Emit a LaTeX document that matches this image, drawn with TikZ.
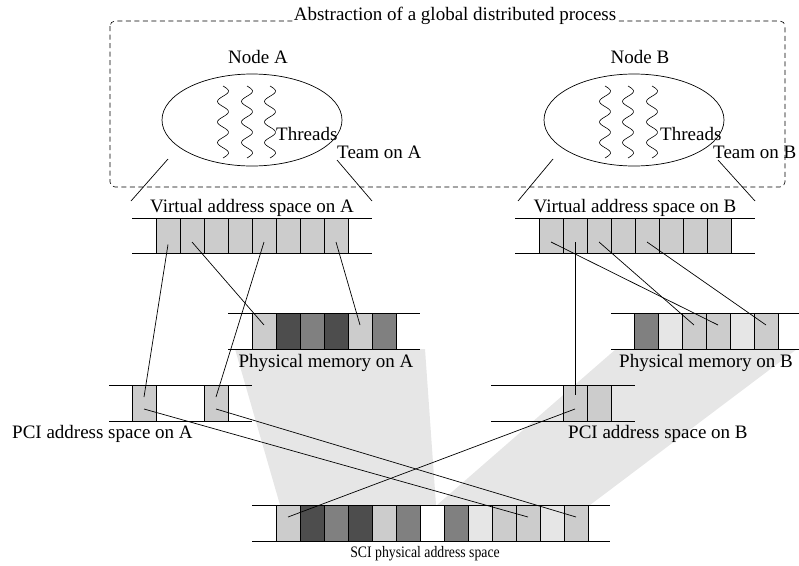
\documentclass[tikz,border=0pt]{standalone}
\usepackage{fontspec}
\setmainfont{Liberation Serif}
\usetikzlibrary{shapes.geometric}
\definecolor{lg}{HTML}{CCCCCC}
\definecolor{dg}{HTML}{4D4D4D}
\definecolor{mg}{HTML}{808080}
\definecolor{vlg}{HTML}{E6E6E6}
\definecolor{sh}{HTML}{E6E6E6}
\begin{document}
\begin{tikzpicture}[x=1pt,y=-1pt,
  font=\fontsize{19}{22}\selectfont,
  cell/.style={draw, line width=0.7pt, minimum width=24pt, minimum height=35pt, inner sep=0pt, outer sep=0pt},
  bar/.style={line width=0.7pt},
  link/.style={line width=0.7pt},
  lbl/.style={inner sep=0pt},
  thread/.style={line width=0.6pt},
  procbox/.style={line width=0.6pt, dash pattern=on 5pt off 3.5pt, rounded corners=5pt},
  team/.style={draw, line width=0.7pt, ellipse, minimum width=180pt, minimum height=92pt, inner sep=0pt}]
\useasboundingbox (0,0) rectangle (799,565);

% shadows
\fill[sh] (235,349) -- (425,349) -- (436,505) -- (280,505) -- cycle;
\fill[sh] (616,349) -- (797,349) -- (590,505) -- (437,505) -- cycle;

% global process box
\draw[procbox] (110,21) rectangle (785,187);
\node[lbl, fill=white, inner sep=1pt, anchor=base] (title) at (455,20) {Abstraction of a global distributed process};

% nodes A and B
\node[team] (nodeA) at (252,120) {};
\node[team] (nodeB) at (634,120) {};
\node[lbl, anchor=base] (labA) at (258,63) {Node A};
\node[lbl, anchor=base] (labB) at (640,63) {Node B};
\foreach \xx in {223,247,270,605,628,652}
  \draw[thread] plot[smooth, domain=0:72, samples=61] ({\xx+5.5*sin(\x*17.5)},{86+\x});
\node[lbl, anchor=base west] (thA) at (276,140) {Threads};
\node[lbl, anchor=base west] (thB) at (660,140) {Threads};
\node[lbl, anchor=base west] (tmA) at (337,158) {Team on A};
\node[lbl, anchor=base west] (tmB) at (713,158) {Team on B};

% team-to-virtual lines
\coordinate (tAl) at (168,159);
\coordinate (tAr) at (337,160);
\coordinate (tBl) at (553,159);
\coordinate (tBr) at (718,160);
\coordinate (vAl) at (131,201);
\coordinate (vAr) at (372,201);
\coordinate (vBl) at (518,201);
\coordinate (vBr) at (755,201);
\draw[link] (tAl) -- (vAl);
\draw[link] (tAr) -- (vAr);
\draw[link] (tBl) -- (vBl);
\draw[link] (tBr) -- (vBr);

% virtual address spaces
\node[lbl, anchor=base] (vlabA) at (252,212) {Virtual address space on A};
\node[lbl, anchor=base] (vlabB) at (635,212) {Virtual address space on B};
\draw[bar] (132,218) -- (372,218) (132,253) -- (372,253);
\draw[bar] (515,218) -- (755,218) (515,253) -- (755,253);
\foreach \i in {0,...,7} {
  \node[cell, fill=lg] (va\i) at ({168+24*\i},235.5) {};
  \node[cell, fill=lg] (vb\i) at ({551+24*\i},235.5) {};
}

% physical memories
\draw[bar] (228,313) -- (420,313) (228,349) -- (420,349);
\draw[bar] (611,313) -- (799,313) (611,349) -- (799,349);
\foreach \c [count=\i from 0] in {lg,dg,mg,dg,lg,mg}
  \node[cell, minimum height=36pt, fill=\c] (pa\i) at ({264+24*\i},331) {};
\foreach \c [count=\i from 0] in {mg,vlg,lg,lg,vlg,lg}
  \node[cell, minimum height=36pt, fill=\c] (pb\i) at ({646+24*\i},331) {};
\node[lbl, anchor=base] (plabA) at (326,367) {Physical memory on A};
\node[lbl, anchor=base] (plabB) at (706,367) {Physical memory on B};

% PCI address spaces
\draw[bar] (109,385) -- (252,385) (109,421) -- (252,421);
\draw[bar] (491,385) -- (635,385) (491,421) -- (635,421);
\node[cell, minimum height=36pt, fill=lg] (ca0) at (144,403) {};
\node[cell, minimum height=36pt, fill=lg] (ca1) at (216,403) {};
\node[cell, minimum height=36pt, fill=lg] (cb0) at (575,403) {};
\node[cell, minimum height=36pt, fill=lg] (cb1) at (599,403) {};
\node[lbl, anchor=base west] (clabA) at (12,438) {PCI address space on A};
\node[lbl, anchor=base west] (clabB) at (568,438) {PCI address space on B};

% SCI physical address space
\draw[bar] (252,505) -- (610,505) (252,541) -- (610,541);
\foreach \c [count=\i from 0] in {lg,dg,mg,dg,lg,mg}
  \node[cell, minimum height=36pt, fill=\c] (s\i) at ({288+24*\i},523) {};
\foreach \c [count=\i from 7] in {mg,vlg,lg,lg,vlg,lg}
  \node[cell, minimum height=36pt, fill=\c] (s\i) at ({288+24*\i},523) {};
\node[lbl, anchor=base, font=\fontsize{16}{18}\selectfont] (slab) at (425,557) {\scalebox{0.86}[1]{SCI physical address space}};

% mappings
\draw[link] ([yshift=-6.5pt]va1.center) -- ([yshift=6pt]pa0.center);
\draw[link] ([yshift=-6.5pt]va7.center) -- ([yshift=6pt]pa4.center);
\draw[link] ([yshift=-9pt]va0.center) -- ([yshift=6pt]ca0.center);
\draw[link] ([yshift=-6.5pt]va4.center) -- ([yshift=6pt]ca1.center);
\draw[link] ([yshift=-6.5pt]vb0.center) -- ([yshift=6pt]pb3.center);
\draw[link] ([yshift=-6.5pt]vb2.center) -- ([yshift=6pt]pb2.center);
\draw[link] ([yshift=-6.5pt]vb4.center) -- ([yshift=6pt]pb5.center);
\draw[link] ([yshift=-6.5pt]vb1.center) -- ([yshift=8pt]cb0.center);
\draw[link] ([yshift=-6pt]ca0.center) -- ([yshift=6pt]s10.center);
\draw[link] ([yshift=-6pt]ca1.center) -- ([yshift=6pt]s12.center);
\draw[link] ([yshift=-6pt]cb0.center) -- ([yshift=6pt]s0.center);
\end{tikzpicture}
\end{document}
